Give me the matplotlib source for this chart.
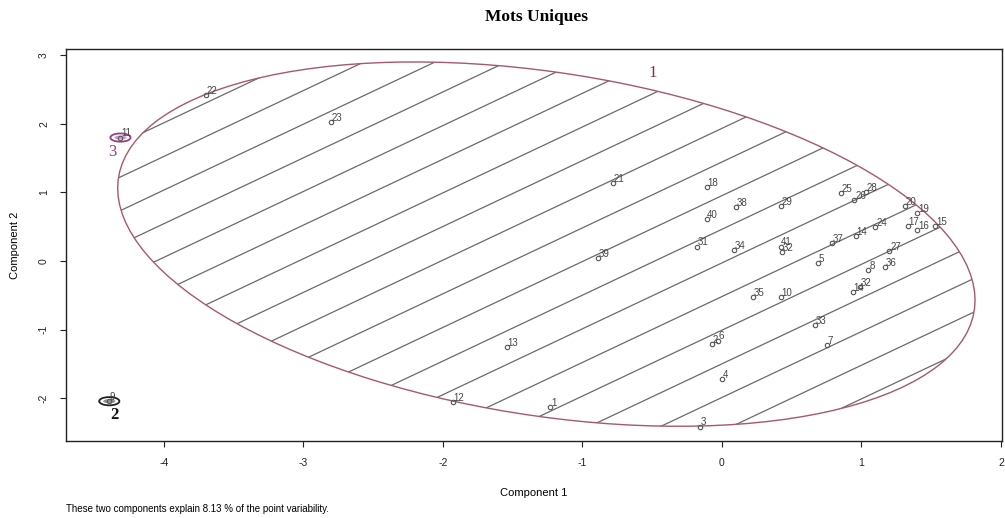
import numpy as np
import matplotlib.pyplot as plt
from matplotlib.patches import Ellipse

# point coordinates (component 1, component 2)
point_labels = ["1", "2", "3", "4", "5", "6", "7", "8", "9", "10",
                "11", "12", "13", "14", "15", "16", "17", "18", "19", "20",
                "21", "22", "23", "24", "25", "26", "27", "28", "29", "14",
                "31", "32", "33", "34", "35", "36", "37", "38", "39", "40",
                "41", "32"]
comp1 = [-1.23, -0.07, -0.16, 0.00, 0.69, -0.03, 0.75, 1.05, -4.39, 0.42,
         -4.31, -1.93, -1.54, 0.96, 1.53, 1.40, 1.33, -0.11, 1.40, 1.31,
         -0.78, -3.70, -2.80, 1.10, 0.85, 0.95, 1.20, 1.03, 0.42, 0.94,
         -0.18, 0.99, 0.67, 0.09, 0.22, 1.17, 0.79, 0.10, -0.89, -0.11,
         0.42, 0.43]
comp2 = [-2.13, -1.21, -2.41, -1.72, -0.03, -1.16, -1.22, -0.13, -2.04, -0.52,
         1.80, -2.05, -1.25, 0.36, 0.51, 0.45, 0.51, 1.08, 0.70, 0.80,
         1.14, 2.42, 2.02, 0.50, 0.99, 0.89, 0.15, 1.01, 0.80, -0.45,
         0.21, -0.38, -0.93, 0.16, -0.52, -0.09, 0.26, 0.79, 0.04, 0.61,
         0.21, 0.13]

# cluster 1 ellipse: centre and shape matrix
ell_center = [-1.258, 0.248]
ell_shape = [[9.435, -2.507], [-2.507, 7.039]]

# small ellipses of the single point clusters
small_centers = [(-4.39, -2.04), (-4.31, 1.80)]
small_size = (0.145, 0.12)
small_colors = ["#222222", "#9a3d8f"]

cluster_names = ["1", "2", "3"]
cluster_x = [-0.495, -4.35, -4.37]
cluster_y = [2.74, -2.245, 1.59]
cluster_colors = ["#8b2a3a", "#111111", "#9a3d8f"]

sans = "Liberation Sans"
serif = "Liberation Serif"

fig = plt.figure(figsize=(10.05, 5.18), dpi=100)
ax = fig.add_axes([0.0657, 0.1486, 0.9313, 0.7568])
ax.set_xlim(-4.70, 2.007)
ax.set_ylim(-2.62, 3.09)

# big ellipse with hatch lines
vals, vecs = np.linalg.eigh(np.array(ell_shape))
angle = np.degrees(np.arctan2(vecs[1, 1], vecs[0, 1]))
big = Ellipse(ell_center, 2 * np.sqrt(vals[1]), 2 * np.sqrt(vals[0]),
              angle=angle, fill=False, edgecolor="#a85868", lw=1.0, zorder=3)
ax.add_patch(big)

xs = np.array([-5.0, 2.5])
for b in np.arange(2.424 - 20 * 0.49, 2.424 + 20 * 0.49, 0.49):
    line, = ax.plot(xs, 0.96 * xs + b, color="#6a6a6a", lw=0.9, zorder=2)
    line.set_clip_path(big)

for (cx, cy), col in zip(small_centers, small_colors):
    e = Ellipse((cx, cy), small_size[0], small_size[1], fill=False,
                edgecolor=col, lw=1.3, zorder=3)
    ax.add_patch(e)
    e2 = Ellipse((cx, cy), small_size[0] * 0.6, small_size[1] * 0.5,
                 facecolor=col, alpha=0.5, edgecolor="none", zorder=3)
    ax.add_patch(e2)

ax.plot(comp1, comp2, "o", ms=3.2, mfc="none", mec="#555555", mew=0.8,
        zorder=4)
for lab, x, y in zip(point_labels, comp1, comp2):
    ax.annotate(lab, (x, y), xytext=(0.5, -0.5), textcoords="offset points",
                ha="left", va="bottom", fontsize=7, family=sans,
                color="#444444", zorder=5)

for name, x, y, col in zip(cluster_names, cluster_x, cluster_y, cluster_colors):
    ax.text(x, y, name, ha="center", va="center", fontsize=12, family=serif,
            color=col, fontweight="bold" if name == "2" else "normal",
            zorder=6)

ax.set_xticks([-4, -3, -2, -1, 0, 1, 2])
ax.set_yticks([-2, -1, 0, 1, 2, 3])
ax.set_xticklabels(["-4", "-3", "-2", "-1", "0", "1", "2"])
ax.set_yticklabels(["-2", "-1", "0", "1", "2", "3"])
ax.tick_params(direction="out", length=4.3, width=0.8, labelsize=7.5, pad=8,
               colors="#222222")
ax.tick_params(axis="y", labelrotation=90)
for t in ax.get_xticklabels() + ax.get_yticklabels():
    t.set_family(sans)
for t in ax.get_yticklabels():
    t.set_va("center")
for s in ax.spines.values():
    s.set_linewidth(1.0)
    s.set_color("#222222")

ax.set_xlabel("Component 1", family=sans, fontsize=8, labelpad=14)
ax.set_ylabel("Component 2", family=sans, fontsize=8, labelpad=14)
fig.text(0.534, 0.968, "Mots Uniques", ha="center", va="center",
         family=serif, fontweight="bold", fontsize=12.5)
fig.text(0.0657, 0.017, "These two components explain 8.13 % of the point variability.",
         ha="left", va="center", family=sans, fontsize=7)

fig.savefig("out.png", dpi=100)
